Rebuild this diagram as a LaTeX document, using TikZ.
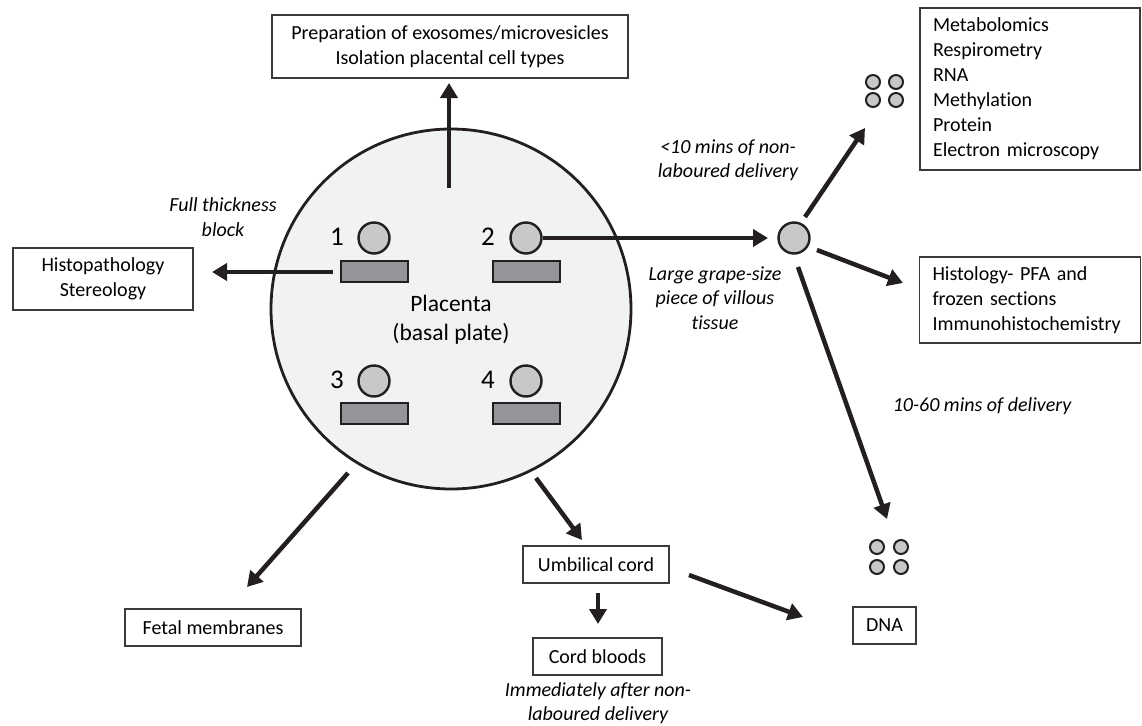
\documentclass[tikz,border=0pt]{standalone}
\usepackage{fontspec}
\setmainfont{Carlito}[RawFeature={-liga}]
\usetikzlibrary{arrows.meta}
\definecolor{ink}{HTML}{231F20}
\definecolor{plate}{HTML}{F1F2F4}
\definecolor{dotfill}{HTML}{C7C8CA}
\definecolor{barfill}{HTML}{939598}
\definecolor{boxline}{HTML}{3A3A3A}
\tikzset{
  box/.style={draw=boxline, line width=1.2pt, inner sep=0pt, align=center,
    font=\fontsize{20}{25}\selectfont},
  lbox/.style={box, align=left},
  note/.style={align=center, font=\fontsize{20}{24.5}\selectfont\itshape},
  arr/.style={draw=ink, line width=4.5pt, -{Triangle[length=15pt,width=17pt]}},
  dot/.style={circle, draw=ink, line width=2.4pt, fill=dotfill, minimum size=31pt, inner sep=0pt},
  minidot/.style={circle, draw=ink, line width=2pt, fill=dotfill, minimum size=14pt, inner sep=0pt},
  bar/.style={rectangle, draw=ink, line width=2pt, fill=barfill, minimum width=67pt, minimum height=21pt, inner sep=0pt},
  num/.style={font=\fontsize{27}{30}\selectfont, inner sep=0pt},
}
\begin{document}
\begin{tikzpicture}[x=1pt,y=-1pt]
\useasboundingbox (0,0) rectangle (1142,725);
% placenta
\node[circle, draw=ink, line width=2.8pt, fill=plate, minimum size=360pt, inner sep=0pt] (plac) at (451,309) {};
\node[font=\fontsize{23.5}{29}\selectfont, align=center] (plabel) at (451,320) {Placenta\\(basal plate)};
% sample sites
\node[dot] (c1) at (374,238) {};
\node[dot] (c2) at (526,238) {};
\node[dot] (c3) at (374,381) {};
\node[dot] (c4) at (526,381) {};
\node[bar] (r1) at (374.5,271.5) {};
\node[bar] (r2) at (526.5,271.5) {};
\node[bar] (r3) at (374.5,413.5) {};
\node[bar] (r4) at (526.5,413.5) {};
\node[num] (n1) at (337,237) {1};
\node[num] (n2) at (488,237) {2};
\node[num] (n3) at (337,380) {3};
\node[num] (n4) at (488,380) {4};
% boxes
\node[box, minimum width=356pt, minimum height=63pt] (prep) at (450,46.5) {Preparation of exosomes/microvesicles\\Isolation placental cell types};
\node[box, minimum width=180pt, minimum height=62pt] (histo) at (103,279) {Histopathology\\Stereology};
\node[lbox, minimum width=220pt, minimum height=162pt, text width=194pt] (omics) at (1030,89) {Metabolomics\\Respirometry\\RNA\\Methylation\\Protein\\Electron microscopy};
\node[lbox, minimum width=221pt, minimum height=86pt, text width=195pt] (histol) at (1030,300) {Histology- PFA and\\frozen sections\\Immunohistochemistry};
\node[box, minimum width=176pt, minimum height=37pt] (fetal) at (213,627.5) {Fetal membranes};
\node[box, minimum width=146pt, minimum height=37pt] (umb) at (596,564.5) {Umbilical cord};
\node[box, minimum width=129pt, minimum height=37pt] (cord) at (597.5,656.5) {Cord bloods};
\node[box, minimum width=63pt, minimum height=37pt] (dna) at (884.5,625.5) {DNA};
% grape piece and aliquots
\node[dot] (grape) at (794,238) {};
\node[minidot] (a1) at (873,82) {};
\node[minidot] (a2) at (896,82) {};
\node[minidot] (a3) at (873,100) {};
\node[minidot] (a4) at (896,100) {};
\node[minidot] (d1) at (877,547) {};
\node[minidot] (d2) at (901,547) {};
\node[minidot] (d3) at (877,567) {};
\node[minidot] (d4) at (901,567) {};
% notes
\node[note] (tfull) at (223,217) {Full thickness\\block};
\node[note] (tten) at (728,160) {<10 mins of non-\\laboured delivery};
\node[note] (tgrape) at (715,298) {Large grape-size\\piece of villous\\tissue};
\node[note] (tsixty) at (982,406) {10-60 mins of delivery};
\node[note] (timm) at (598,703) {Immediately after non-\\laboured delivery};
% connector end points
\coordinate (upS) at (449,188);
\coordinate (upE) at (449,83);
\coordinate (lS) at (333,272);
\coordinate (lE) at (212,272);
\coordinate (gE) at (768,238);
\coordinate (g1S) at (805,217);
\coordinate (g1E) at (865,128);
\coordinate (g2S) at (817,250);
\coordinate (g2E) at (903,283);
\coordinate (g3S) at (798,267);
\coordinate (g3E) at (887,519);
\coordinate (fS) at (348,473);
\coordinate (fE) at (247,587);
\coordinate (uS) at (536,478);
\coordinate (uE) at (582,540);
\coordinate (udS) at (689,575);
\coordinate (udE) at (803,617);
\coordinate (ucS) at (598,593);
\coordinate (ucE) at (598,624);
% connectors
\draw[arr] (upS) -- (upE);
\draw[arr] (lS) -- (lE);
\draw[arr] (c2.east) -- (gE);
\draw[arr] (g1S) -- (g1E);
\draw[arr] (g2S) -- (g2E);
\draw[arr] (g3S) -- (g3E);
\draw[arr] (fS) -- (fE);
\draw[arr] (uS) -- (uE);
\draw[arr] (udS) -- (udE);
\draw[arr] (ucS) -- (ucE);
\end{tikzpicture}
\end{document}
